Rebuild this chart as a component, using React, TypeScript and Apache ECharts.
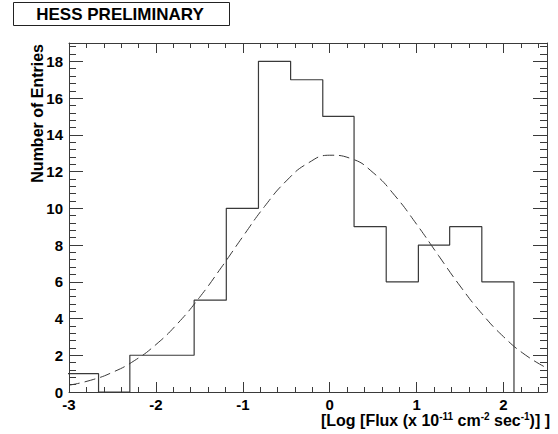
import React, { useEffect, useRef } from 'react';
import * as echarts from 'echarts';

// Histogram bin edges (log flux) and counts
const binEdges = [-3.03, -2.66, -2.3, -1.93, -1.56, -1.19, -0.82, -0.45, -0.08, 0.28, 0.65, 1.02, 1.38, 1.75, 2.12];
const binCounts = [1, 0, 2, 2, 5, 10, 18, 17, 15, 9, 6, 8, 9, 6];

// Gaussian fit curve (dashed)
const fitX = [-3, -2.75, -2.5, -2.25, -2, -1.75, -1.5, -1.25, -1, -0.75, -0.5, -0.25, 0, 0.25, 0.5, 0.75, 1, 1.25, 1.5, 1.75, 2, 2.25, 2.5];
const fitY = [0.37, 0.64, 1.07, 1.7, 2.58, 3.73, 5.14, 6.76, 8.46, 10.1, 11.49, 12.46, 12.89, 12.7, 11.94, 10.69, 9.13, 7.44, 5.77, 4.27, 3.01, 2.02, 1.3];

const xRange = [-3, 2.5];
const yRange = [0, 19];

const FONT = '"Liberation Sans", Arial, Helvetica, sans-serif';
const LINE = '#3a3a3a';

export default function App() {
  const ref = useRef<HTMLDivElement>(null);

  useEffect(() => {
    if (!ref.current) return;
    const chart = echarts.init(ref.current, undefined, { renderer: 'svg' });

    const histData: number[][] = [[binEdges[0], 0]];
    binCounts.forEach((c, i) => histData.push([binEdges[i + 1], c]));
    histData.push([binEdges[binEdges.length - 1], 0]);

    const fitData = fitX.map((x, i) => [x, fitY[i]]);

    const labelStyle = {
      fontFamily: FONT,
      fontSize: 15,
      fontWeight: 'bold' as const,
      color: '#000',
    };

    const baseX = {
      type: 'value' as const,
      min: xRange[0],
      max: xRange[1],
      splitLine: { show: false },
    };
    const baseY = {
      type: 'value' as const,
      min: yRange[0],
      max: yRange[1],
      splitLine: { show: false },
    };
    const line = (show: boolean) => ({ show, onZero: false, lineStyle: { color: LINE, width: 1 } });

    chart.setOption({
      animation: false,
      backgroundColor: '#fff',
      grid: {
        left: 69,
        right: 11,
        top: 43,
        bottom: 42,
        containLabel: false,
        outerBoundsMode: 'none',
      },
      xAxis: [
        {
          ...baseX,
          position: 'bottom',
          interval: 1,
          axisLine: line(true),
          axisTick: { show: true, inside: true, length: 10, lineStyle: { color: LINE } },
          axisLabel: { ...labelStyle, margin: 5, showMaxLabel: false },
        },
        {
          ...baseX,
          position: 'bottom',
          interval: 0.2,
          axisLine: line(false),
          axisTick: { show: true, inside: true, length: 5, lineStyle: { color: LINE } },
          axisLabel: { show: false },
        },
        {
          ...baseX,
          position: 'top',
          interval: 1,
          axisLine: line(true),
          axisTick: { show: true, inside: true, length: 10, lineStyle: { color: LINE } },
          axisLabel: { show: false },
        },
        {
          ...baseX,
          position: 'top',
          interval: 0.2,
          axisLine: line(false),
          axisTick: { show: true, inside: true, length: 5, lineStyle: { color: LINE } },
          axisLabel: { show: false },
        },
      ],
      yAxis: [
        {
          ...baseY,
          position: 'left',
          interval: 2,
          axisLine: line(true),
          axisTick: { show: true, inside: true, length: 14, lineStyle: { color: LINE } },
          axisLabel: { ...labelStyle, margin: 6, showMaxLabel: false },
        },
        {
          ...baseY,
          position: 'left',
          interval: 0.4,
          axisLine: line(false),
          axisTick: { show: true, inside: true, length: 7, lineStyle: { color: LINE } },
          axisLabel: { show: false },
        },
        {
          ...baseY,
          position: 'right',
          interval: 2,
          axisLine: line(true),
          axisTick: { show: true, inside: true, length: 14, lineStyle: { color: LINE } },
          axisLabel: { show: false },
        },
        {
          ...baseY,
          position: 'right',
          interval: 0.4,
          axisLine: line(false),
          axisTick: { show: true, inside: true, length: 7, lineStyle: { color: LINE } },
          axisLabel: { show: false },
        },
      ],
      series: [
        {
          type: 'line',
          xAxisIndex: 0,
          yAxisIndex: 0,
          data: histData,
          step: 'start',
          symbol: 'none',
          clip: true,
          lineStyle: { color: LINE, width: 1.2 },
        },
        {
          type: 'line',
          xAxisIndex: 0,
          yAxisIndex: 0,
          data: fitData,
          smooth: true,
          symbol: 'none',
          clip: true,
          lineStyle: { color: LINE, width: 1, type: [11, 5] },
        },
      ],
      graphic: [
        {
          type: 'rect',
          shape: { x: 13.5, y: 2.5, width: 216, height: 23 },
          style: { fill: '#fff', stroke: '#222', lineWidth: 1 },
        },
        {
          type: 'text',
          x: 120,
          y: 14,
          style: {
            text: 'HESS PRELIMINARY',
            fontFamily: FONT,
            fontSize: 17,
            fontWeight: 'bold',
            fill: '#000',
            textAlign: 'center',
            textVerticalAlign: 'middle',
          },
        },
        {
          type: 'text',
          x: 37,
          y: 44,
          rotation: Math.PI / 2,
          style: {
            text: 'Number of Entries',
            fontFamily: FONT,
            fontSize: 16,
            fontWeight: 'bold',
            fill: '#000',
            textAlign: 'right',
            textVerticalAlign: 'middle',
          },
        },
        {
          type: 'text',
          x: 550,
          y: 420,
          style: {
            text: '{a|[Log [Flux (x 10}{s|-11}{a| cm}{s|-2}{a| sec}{s|-1}{a|)] ]}',
            fill: '#000',
            textAlign: 'right',
            textVerticalAlign: 'middle',
            rich: {
              a: { fontFamily: FONT, fontSize: 16, fontWeight: 'bold', lineHeight: 18, fill: '#000' },
              s: { fontFamily: FONT, fontSize: 10, fontWeight: 'bold', lineHeight: 11, verticalAlign: 'top', fill: '#000' },
            },
          },
        },
      ],
    });

    return () => chart.dispose();
  }, []);

  return (
    <div
      ref={ref}
      style={{ position: 'fixed', left: 0, top: 0, width: 558, height: 434, background: '#fff' }}
    />
  );
}
